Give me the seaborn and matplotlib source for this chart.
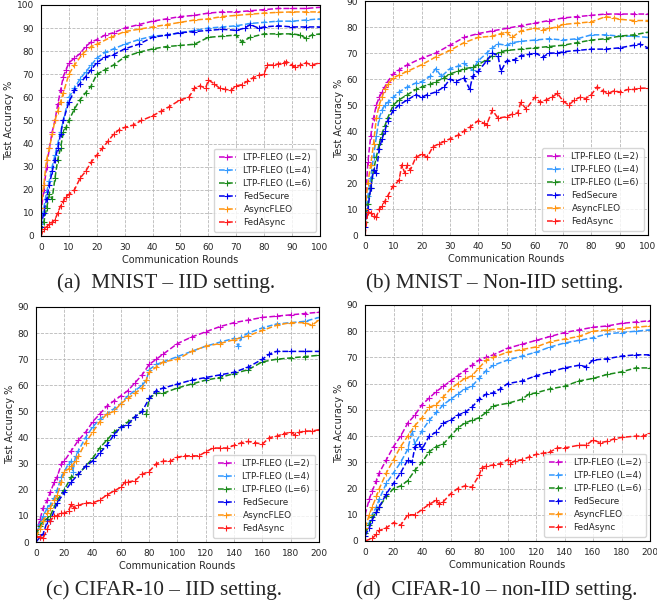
import matplotlib
matplotlib.use("Agg")
import matplotlib.pyplot as plt
import seaborn as sns

# ---------------- data ----------------
# Panel (a) MNIST - IID
A_L2_X = [0,1,2,3,4,5,6,7,8,9,10,12,14,16,18,20,23,26,30,35,40,45,50,55,60,65,70,75,80,85,90,95,100]
A_L2_Y = [10,20,30,38,45,50,57,63,69,72,75,77,79,82,84,85,87,88,90,91.5,93,94,95,95.5,96.5,97,97,97.5,98,98.5,98.5,98.5,99]
A_L4_X = [0,1,2,3,4,5,6,7,8,10,12,14,16,18,20,23,26,30,35,40,45,50,55,60,65,70,75,80,85,90,95,100]
A_L4_Y = [5,12,19,24,30,35,40,45,50,60,64,68,71,74,77,79.5,81,83,85,86.5,87,88,89,90,90.5,91,92,92.5,93,93,93.5,94]
A_L6_X = [0,1,2,3,4,5,6,7,8,9,10,12,14,16,18,20,23,26,30,35,40,45,50,55,60,65,70,72,75,80,85,90,93,95,97,100]
A_L6_Y = [2,6,12,18,16,25,33,38,45,47,50,55,59,62,65,70,72,74,77.5,79.5,81,82,82.5,83,86,86.5,87,84,86,87.5,87.5,87.5,87,85.5,87,87.5]
A_FS_X = [0,1,2,3,4,5,6,7,8,10,12,14,16,18,20,23,26,30,35,40,45,50,55,60,65,70,73,75,78,80,85,90,95,100]
A_FS_Y = [4,10,16,22,28,33,38,44,50,58,63,66,69,72,75,77.5,78.5,81,83,86,87,88,88.5,89,89.5,89,90,91.5,90,90.5,91,90.5,90.5,90.5]
A_AF_X = [0,1,2,3,4,5,6,7,8,10,12,15,18,20,25,30,35,40,45,50,55,60,65,70,75,80,85,90,95,100]
A_AF_Y = [12,22,33,38,44,50,54,58,62,70,74,79,82,83,86,88.5,89.5,90.5,91.5,92.5,93.5,94,95,95.5,96,96.5,96.8,97,97,97]
A_FA_X = [0,1,2,3,4,5,6,7,8,9,10,12,14,16,18,20,22,24,26,28,30,33,36,40,43,46,50,53,55,57,59,60,62,64,66,68,70,72,74,76,78,80,81,83,85,87,88,90,91,93,95,97,100]
A_FA_Y = [0,3,4,5,6,7,10,13,15,17,18,20,25,28,32,35,38,41,44,46,47,48,50,52,54,56,59,60,64,65,64,67.5,66,64,63.5,63,65,65.5,67,68.5,69.5,70,74,74,74.5,75,75.5,74,73,74,75,74,75]

# Panel (b) MNIST - Non-IID
B_L2_X = [0,1,2,3,4,5,6,7,8,10,12,15,20,25,30,35,40,45,50,55,60,65,70,75,80,85,90,95,100]
B_L2_Y = [10,28,38,45,50,53,55,57,59,62,63.5,65.5,68,70,73,76,77.5,78.5,79.5,80.5,81.5,82.5,83.5,84,84.5,85,85,85,85]
B_L4_X = [0,1,2,3,4,5,6,7,8,10,12,15,18,20,23,25,27,30,33,35,38,40,43,45,47,50,52,55,60,65,70,75,80,85,90,95,100]
B_L4_Y = [8,15,22,30,38,45,48,50,51,53,55,57,58.5,59,61,64,61,64,65,66,63.5,67,70,72,73.5,73,74,74.5,75,75.5,75,75.5,77,77,76.5,76.5,76]
B_L6_X = [0,1,2,3,4,5,6,7,8,10,12,15,18,20,23,25,28,30,33,35,38,40,43,45,48,50,55,60,65,70,75,80,85,90,95,100]
B_L6_Y = [5,12,18,25,30,35,39,42,45,50,52,54,56,57,58,59,60.5,62,63,64,64.5,65.5,67.5,69,70.5,71,71.5,72,72.5,73,74,75,75.5,76.5,77,78]
B_FS_X = [0,1,2,3,4,5,6,7,8,10,12,15,18,20,22,25,28,30,32,35,37,38,40,43,45,47,48,50,53,55,58,60,63,65,68,70,75,80,85,90,95,97,100]
B_FS_Y = [3,10,18,25,24,33,37,40,44,48,50,52,54,53,54,55,57,60,59,60.5,56,61,63,67,70,69,63,67,67.5,69,69.5,70,68.5,70,70,70.5,71,71.5,71.5,72,73,73.5,72]
B_AF_X = [0,1,2,3,4,5,6,7,8,10,12,15,20,25,30,35,40,45,48,50,52,55,60,63,65,68,70,75,80,85,88,90,95,100]
B_AF_Y = [10,20,27,35,45,50,53,56,58,60.5,61.5,63,65.5,68.5,71,74,76,76.5,77.5,78,76,78.5,79.5,79,79.5,80,81,81.5,82,84,83.5,83,82.5,82.5]
B_FA_X = [0,1,2,3,4,5,6,7,8,10,12,13,14,15,16,18,20,22,24,26,28,30,33,35,37,40,42,43,45,47,50,52,54,55,57,60,62,64,66,68,70,72,74,76,78,80,82,84,86,88,90,93,95,97,100]
B_FA_Y = [0,9,8.5,7.5,7,10,11,13,15,19,21,27,24,27,25,30,31,30,34,35,36,37,38.5,40,41.5,44,43,42.5,48,45,45.5,46.5,47,51,48.5,53,51,52,53,54.5,51.5,50,52,53,52.5,54,57,55.5,54.5,55.5,55,56,56,56.5,56.5]

# Panel (c) CIFAR-10 - IID
C_L2_X = [0,3,5,8,10,13,15,18,20,25,30,35,40,45,50,55,60,65,70,75,80,85,90,100,110,120,130,140,150,160,170,180,190,200]
C_L2_Y = [3,9,13,16,19,23,25,30,31,35,39,42,46,49,52,54,56,58,61,64,68,70,72,76,78.5,80.5,82.5,84,85,86,86.5,87,87.5,88]
C_L4_X = [0,3,5,8,10,13,15,18,20,23,25,26,28,30,35,40,45,50,55,60,65,70,75,78,80,85,90,100,110,120,130,140,143,145,150,160,170,180,190,200]
C_L4_Y = [2,7,10,13,14,17,20,25,27,30,31,27,33,35,40,44,47,49,51,53,56,58,60,62,66,68,69,71,73,75,76.5,78,75,78.5,80,82,83.5,84,84.5,86]
C_L6_X = [0,3,5,8,10,15,20,25,30,35,40,45,50,55,60,65,70,75,78,80,85,90,100,110,120,130,140,150,160,170,180,190,200]
C_L6_Y = [3,6,8,9,10,16,20,25,26,29,32,36,39,42,44,46,48,50,49,55,57,57,59,60.5,62,63,64.5,66,69,70,70.5,71,71.5]
C_FS_X = [0,3,5,8,10,15,20,25,30,35,40,45,50,55,60,65,70,75,80,85,90,100,110,120,130,140,150,160,165,170,180,190,200]
C_FS_Y = [0,2,3,8,8,15,19,23,26,29,31,34,37,41,44,45,48,50,55,58,59,60.5,62,63,64,65,67,70,72,73,73,73,73]
C_AF_X = [0,3,5,8,10,13,15,18,20,23,25,28,30,35,40,45,50,55,60,65,70,75,78,80,85,90,100,110,120,130,140,150,160,170,180,190,195,200]
C_AF_Y = [2,5,8,11,13,16,18,23,27,28,29,31,33,38,42,46,49,50,53,55,57,59,62,65,67,69,70,73,75,76,77.5,79,81,83,84,84,83,85]
C_FA_X = [0,3,5,8,10,13,15,18,20,23,25,27,30,35,40,45,50,55,60,63,65,70,75,80,85,90,95,100,105,110,115,120,125,130,135,140,145,150,155,160,165,170,175,180,183,186,190,195,200]
C_FA_Y = [2,2,1.5,5,8,10,10,11,11,12,14.5,13,14,15,15,16,18,19.5,21,23,23,23.5,26,27,30,31,31,32.5,33,33,33,34.5,36,36,36,37,38,38.5,38,37.5,40,40.5,41.5,42,41,42,42.5,42.5,43]

# Panel (d) CIFAR-10 - non-IID
D_L2_X = [0,3,5,8,10,15,20,25,30,35,40,45,50,55,60,65,70,75,80,85,90,100,110,120,130,140,150,160,170,180,190,200]
D_L2_Y = [10,16,19,23,26,31,36,40,45,48,52,54.5,57,59,61,63,65,67,69,70,71,73.5,75,76.5,78,79.5,80.5,81.5,82,83,83.5,84]
D_L4_X = [0,3,5,8,10,15,20,25,30,33,35,40,45,50,55,60,65,70,75,80,85,90,100,110,120,130,140,150,160,170,180,190,200]
D_L4_Y = [3,7,10,13,16,22,26,30,35,42,37,42,46,49,52,54,56,58,59,62,65,67,69,70.5,72,74,75.5,76.5,77.5,79,79.5,80,80.5]
D_L6_X = [0,3,5,8,10,15,20,25,30,35,40,45,50,55,60,65,70,75,80,85,90,100,110,115,120,130,140,150,160,170,180,190,200]
D_L6_Y = [3,6,9,11,13,17,20,21,23,27,30,34,36,37,40,43,45,46,47,49,51.5,52.5,54,56,56.5,58,59,61,62,63.5,64.5,66,66]
D_FS_X = [0,3,5,8,10,15,20,25,30,33,35,38,40,45,50,55,60,65,70,75,80,85,90,95,100,110,120,130,140,150,155,160,170,180,190,200]
D_FS_Y = [2,5,8,11,13,18,22,26,31,30,36,37,35,40,41.5,45,46,48,49,51,54,56,56.5,58,60,61,63,64.5,66,67,66.5,69,69.5,70.5,71,71]
D_AF_X = [0,3,5,8,10,15,20,25,30,35,40,45,50,55,60,65,70,75,80,85,90,100,110,120,130,140,150,160,170,180,190,200]
D_AF_Y = [5,10,13,17,20,26,31,36,40,44,47,51,52,55,58,60,62,63,66,69,70,72,73,74,76,77,78,80,80.5,81,81.5,82]
D_FA_X = [0,5,8,10,15,20,25,30,35,40,45,50,52,55,60,65,70,75,80,82,85,90,95,100,102,105,110,115,120,125,130,135,140,150,155,160,165,170,175,180,190,195,200]
D_FA_Y = [0,1,2.5,4,5,7,6,10,10,12,14,15.5,14,15,18,20,21,20.5,25,28,28.5,29,29.5,31,29.5,30.5,31,32,33,33.5,34,35.5,35.5,36.5,36.5,38.5,37.5,38,39,39.5,40,40,41]

LABELS = ["LTP-FLEO (L=2)", "LTP-FLEO (L=4)", "LTP-FLEO (L=6)", "FedSecure", "AsyncFLEO", "FedAsync"]
COLORS = ["#cc00cc", "#3399ff", "#1a8a1a", "#0000ee", "#ff9410", "#ff1a1a"]
CAPTIONS = ["(a)  MNIST \u2013 IID setting.", "(b) MNIST \u2013 Non-IID setting.",
            "(c) CIFAR-10 \u2013 IID setting.", "(d)  CIFAR-10 \u2013 non-IID setting."]

# ---------------- figure ----------------
sns.set_style("white")
plt.rcParams['font.family'] = ['DejaVu Sans']
fig = plt.figure(figsize=(6.57, 6.09), dpi=100)

panels = [
    dict(rect=[0.0624, 0.6125, 0.4246, 0.3793], xmax=100, ymax=100, xstep=10,
         series=[(A_L2_X, A_L2_Y), (A_L4_X, A_L4_Y), (A_L6_X, A_L6_Y), (A_FS_X, A_FS_Y), (A_AF_X, A_AF_Y), (A_FA_X, A_FA_Y)],
         cap=(166 / 657, 1 - 283 / 609)),
    dict(rect=[0.5556, 0.614, 0.4307, 0.3843], xmax=100, ymax=90, xstep=10,
         series=[(B_L2_X, B_L2_Y), (B_L4_X, B_L4_Y), (B_L6_X, B_L6_Y), (B_FS_X, B_FS_Y), (B_AF_X, B_AF_Y), (B_FA_X, B_FA_Y)],
         cap=(495 / 657, 1 - 283 / 609)),
    dict(rect=[0.0548, 0.110, 0.4307, 0.3859], xmax=200, ymax=90, xstep=20,
         series=[(C_L2_X, C_L2_Y), (C_L4_X, C_L4_Y), (C_L6_X, C_L6_Y), (C_FS_X, C_FS_Y), (C_AF_X, C_AF_Y), (C_FA_X, C_FA_Y)],
         cap=(164 / 657, 1 - 590 / 609)),
    dict(rect=[0.5556, 0.1117, 0.4338, 0.3875], xmax=200, ymax=90, xstep=20,
         series=[(D_L2_X, D_L2_Y), (D_L4_X, D_L4_Y), (D_L6_X, D_L6_Y), (D_FS_X, D_FS_Y), (D_AF_X, D_AF_Y), (D_FA_X, D_FA_Y)],
         cap=(497 / 657, 1 - 590 / 609)),
]

for i, p in enumerate(panels):
    ax = fig.add_axes(p["rect"])
    for (xs, ys), lab, col in zip(p["series"], LABELS, COLORS):
        sns.lineplot(x=xs, y=ys, ax=ax, color=col, label=lab, linestyle="--",
                     marker="+", markersize=4, markeredgewidth=0.8, linewidth=1.1,
                     markeredgecolor=col)
    ax.set_xlim(0, p["xmax"])
    ax.set_ylim(0, p["ymax"])
    ax.set_xticks(range(0, p["xmax"] + 1, p["xstep"]))
    ax.set_yticks(range(0, p["ymax"] + 1, 10))
    ax.grid(True, linestyle="--", color="#b8b8b8", linewidth=0.6)
    ax.tick_params(labelsize=6.5, length=3, width=0.6, direction="out", pad=2)
    for s in ax.spines.values():
        s.set_color("black")
        s.set_linewidth(0.8)
    ax.set_xlabel("Communication Rounds", fontsize=7, labelpad=2)
    ax.set_ylabel("Test Accuracy %", fontsize=7, labelpad=2)
    leg = ax.legend(loc="lower right", fontsize=6.4, frameon=True, labelspacing=0.45,
                    handlelength=2.0, borderpad=0.5, fancybox=True)
    leg.get_frame().set_edgecolor("#cccccc")
    fig.text(p["cap"][0], p["cap"][1], CAPTIONS[i], ha="center", va="center",
             fontsize=15.3, family=["Liberation Serif", "DejaVu Serif"])

fig.savefig("out.png", dpi=100)
